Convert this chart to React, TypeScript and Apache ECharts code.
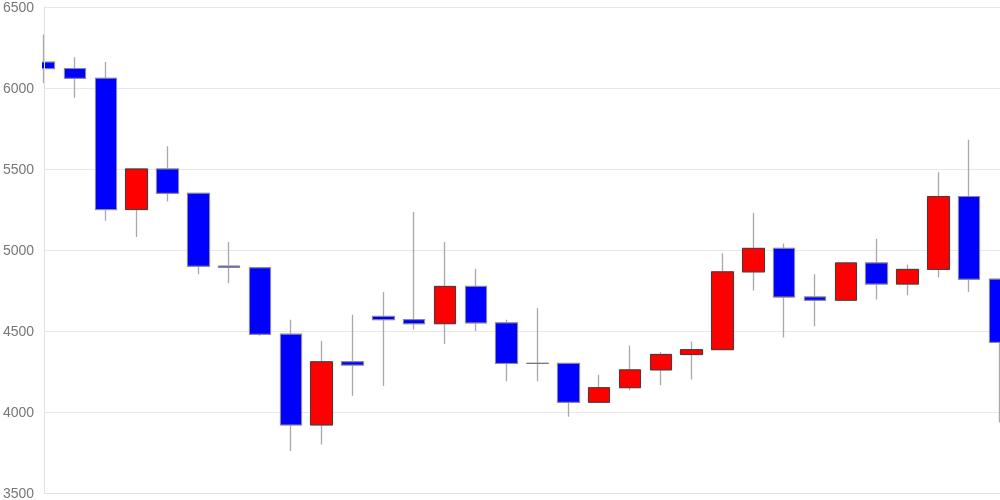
import React, { useEffect, useRef } from "react";
import * as echarts from "echarts";

const categories: string[] = [
  "d01", "d02", "d03", "d04", "d05", "d06", "d07", "d08", "d09", "d10",
  "d11", "d12", "d13", "d14", "d15", "d16", "d17", "d18", "d19", "d20",
  "d21", "d22", "d23", "d24", "d25", "d26", "d27", "d28", "d29", "d30",
  "d31", "d32",
];
const openValues: number[] = [
  6160, 6120, 6060, 5250, 5500, 5350, 4900, 4890, 4480, 3920,
  4310, 4590, 4570, 4545, 4775, 4550, 4300, 4300, 4060, 4150,
  4260, 4355, 4385, 4865, 5010, 4710, 4690, 4920, 4790, 4880,
  5330, 4820,
];
const closeValues: number[] = [
  6120, 6060, 5250, 5500, 5350, 4900, 4893, 4480, 3920, 4310,
  4290, 4570, 4545, 4775, 4550, 4300, 4300, 4060, 4150, 4260,
  4355, 4385, 4865, 5010, 4710, 4690, 4920, 4790, 4880, 5330,
  4820, 4430,
];
const lowValues: number[] = [
  6030, 5940, 5180, 5080, 5300, 4850, 4795, 4470, 3760, 3800,
  4100, 4160, 4510, 4420, 4500, 4190, 4190, 3970, 4060, 4135,
  4165, 4200, 4385, 4750, 4460, 4530, 4690, 4695, 4720, 4830,
  4740, 3935,
];
const highValues: number[] = [
  6330, 6190, 6160, 5500, 5640, 5350, 5050, 4890, 4570, 4440,
  4600, 4740, 5235, 5050, 4885, 4570, 4640, 4300, 4230, 4410,
  4370, 4435, 4980, 5230, 5040, 4850, 4920, 5070, 4910, 5480,
  5680, 4820,
];
const yTicks = { min: 3500, max: 6500, interval: 500 };

export default function App() {
  const ref = useRef<HTMLDivElement>(null);
  useEffect(() => {
    if (!ref.current) return;
    const chart = echarts.init(ref.current, undefined, { renderer: "svg" });
    const fullData = categories.map((_, i) => [
      openValues[i],
      closeValues[i],
      lowValues[i],
      highValues[i],
    ]);
    const bodyData = categories.map((_, i) => [
      openValues[i],
      closeValues[i],
      Math.min(openValues[i], closeValues[i]),
      Math.max(openValues[i], closeValues[i]),
    ]);
    chart.setOption({
      animation: false,
      grid: { left: 43, right: 0, top: 6, bottom: 6, containLabel: false },
      graphic: [
        {
          type: "rect",
          z: 50,
          left: 0,
          top: 0,
          shape: { x: 0, y: 0, width: 42, height: 500 },
          style: { fill: "#ffffff" },
          silent: true,
        },
      ],
      xAxis: {
        type: "category",
        data: categories,
        boundaryGap: false,
        axisLine: { show: true, lineStyle: { color: "#e0e0e0" } },
        axisTick: { show: false },
        axisLabel: { show: false },
        splitLine: { show: false },
      },
      yAxis: [
        {
          type: "value",
          min: yTicks.min,
          max: yTicks.max,
          interval: yTicks.interval,
          axisLine: { show: false },
          axisTick: { show: false },
          axisLabel: { show: false },
          splitLine: { show: true, lineStyle: { color: "#e8e8e8" } },
        },
        {
          type: "value",
          position: "left",
          offset: 0,
          z: 100,
          min: yTicks.min,
          max: yTicks.max,
          interval: yTicks.interval,
          axisLine: { show: true, lineStyle: { color: "#e0e0e0" } },
          axisTick: { show: false },
          axisLabel: {
            color: "#777",
            fontFamily: "Liberation Sans, Arial, sans-serif",
            fontSize: 14,
            margin: 10,
            formatter: (v: number) => String(v),
          },
          splitLine: { show: false },
        },
      ],
      series: [
        {
          type: "candlestick",
          data: fullData,
          barWidth: 22,
          z: 2,
          itemStyle: {
            color: "#ff0000",
            color0: "#0000ff",
            borderColor: "#a8a8a8",
            borderColor0: "#a8a8a8",
            borderColorDoji: "#a8a8a8",
            borderWidth: 1.3,
          },
        },
        {
          type: "candlestick",
          data: bodyData,
          barWidth: 22,
          z: 3,
          itemStyle: {
            color: "#ff0000",
            color0: "#0000ff",
            borderColor: "#4a3a3a",
            borderColor0: "#8a8a9a",
            borderColorDoji: "#777",
            borderWidth: 1,
          },
        },
      ],
    });
    return () => chart.dispose();
  }, []);
  return (
    <div
      ref={ref}
      style={{ position: "fixed", left: 0, top: 0, width: 1000, height: 500 }}
    />
  );
}
